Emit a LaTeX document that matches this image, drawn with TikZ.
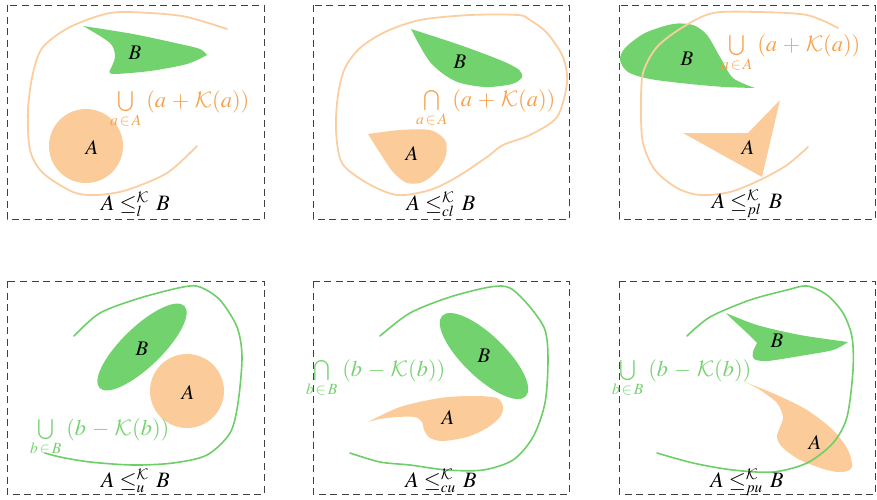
\documentclass[tikz,border=0pt]{standalone}
\usepackage{mathptmx}
\DeclareMathAlphabet{\mathcmcal}{OMS}{cmsy}{m}{n}
\newcommand{\Kc}{\mathcmcal{K}}
\definecolor{gfill}{RGB}{114,210,110}
\definecolor{ofill}{RGB}{251,204,153}
\definecolor{curveorange}{RGB}{250,206,160}
\definecolor{curvegreen}{RGB}{110,206,104}
\definecolor{textorange}{RGB}{245,163,78}
\definecolor{textgreen}{RGB}{118,210,112}
\begin{document}
\begin{tikzpicture}[x=1pt,y=-1pt,
  panel/.style={draw=black!75, dash pattern=on 7pt off 4.5pt, line width=0.9pt},
  ocurve/.style={draw=curveorange, line width=1.8pt, line cap=round},
  gcurve/.style={draw=curvegreen, line width=1.6pt, line cap=round},
  mainlab/.style={inner sep=0pt, font=\huge, anchor=base},
  olab/.style={inner sep=0pt, font=\huge, text=textorange, anchor=base west},
  glab/.style={inner sep=0pt, font=\huge, text=textgreen, anchor=base west},
  setlab/.style={inner sep=0pt, font=\huge}]
\useasboundingbox (0,0) rectangle (877,499);

% ---------- panels ----------
\draw[panel] (7,5) rectangle (264,219);
\draw[panel] (313,5) rectangle (569,219);
\draw[panel] (619,5) rectangle (875,219);
\draw[panel] (7,281) rectangle (264,494);
\draw[panel] (313,281) rectangle (569,494);
\draw[panel] (619,281) rectangle (875,494);

% ---------- panel 1 ----------
\fill[gfill] (83,26) -- plot[smooth] coordinates {(83,26) (133,34) (180,44) (200,49) (207,55)}
  -- plot[smooth] coordinates {(207,55) (187,64) (150,71) (113,74) (110,70)}
  -- plot[smooth] coordinates {(110,70) (115,57) (110,43) (83,26)} -- cycle;
\fill[ofill] (86,146) circle [radius=37];
\draw[ocurve] plot[smooth] coordinates {(227,29) (187,17) (150,13) (110,13) (70,27) (43,47) (33,73) (28,110) (30,150) (43,173) (73,192) (97,195) (127,190) (167,173) (197,146)};
\node[setlab] (B1) at (135,53) {$B$};
\node[setlab] (A1) at (92,148) {$A$};
\node[olab] (L1) at (110,107) {\scalebox{1.08}{$\bigcup\limits_{a\,\in\,A}\;(a\,+\,\Kc(a))$}};
\node[mainlab] (M1) at (135.5,210) {\scalebox{1.06}{$A \leq^{\Kc}_{l}\, B$}};

% ---------- panel 2 ----------
\fill[gfill] (411,29) -- plot[smooth] coordinates {(411,29) (460,45) (500,60) (518,69) (522,77) (512,84) (485,87) (455,81) (430,62) (411,29)} -- cycle;
\fill[ofill] (368,134) -- plot[smooth] coordinates {(368,134) (400,130) (430,130) (445,140) (446,155) (438,170) (423,182) (407,183) (393,172) (380,153) (368,134)} -- cycle;
\draw[ocurve] plot[smooth cycle] coordinates {(518,15) (470,15) (420,20) (385,32) (360,48) (345,68) (338,95) (336,130) (342,163) (367,183) (397,195) (430,190) (457,177) (487,157) (503,145) (530,135) (557,117) (567,83) (563,57) (547,33) (530,20)};
\node[setlab] (B2) at (460,62) {$B$};
\node[setlab] (A2) at (412,154) {$A$};
\node[olab] (L2) at (416,106) {\scalebox{1.08}{$\bigcap\limits_{a\,\in\,A}\;(a\,+\,\Kc(a))$}};
\node[mainlab] (M2) at (441,210) {\scalebox{1.06}{$A \leq^{\Kc}_{cl}\, B$}};

% ---------- panel 3 ----------
\fill[gfill] (755,88) -- plot[smooth] coordinates {(755,88) (733,78) (720,57) (707,35) (693,25) (673,24) (645,33) (625,48) (620,60) (628,72) (650,79) (690,84) (725,87) (755,88)} -- cycle;
\fill[ofill] (683,133) -- (748,133) -- (780,100) -- (762,177) -- cycle;
\draw[ocurve] plot[smooth] coordinates {(838,28) (807,15) (757,12) (713,13) (683,27) (657,47) (643,73) (641,110) (643,143) (655,170) (677,188) (700,195) (730,192) (760,180) (787,165) (808,147)};
\node[setlab] (B3) at (687,59) {$B$};
\node[setlab] (A3) at (748,148) {$A$};
\node[olab] (L3) at (721,51) {\scalebox{1.08}{$\bigcup\limits_{a\,\in\,A}\;(a\,+\,\Kc(a))$}};
\node[mainlab] (M3) at (747,208) {\scalebox{1.06}{$A \leq^{\Kc}_{pl}\, B$}};

% ---------- panel 4 ----------
\fill[gfill, shift={(142,347)}, rotate=44] (0,0) ellipse [x radius=59, y radius=20];
\fill[ofill] (187,391) circle [radius=37];
\draw[gcurve] plot[smooth] coordinates {(74,336) (100,313) (140,298) (183,287) (200,287) (220,300) (237,327) (242,357) (238,403) (230,433) (207,455) (173,463) (133,465) (90,462) (60,457) (45,453)};
\node[setlab] (B4) at (142,349) {$B$};
\node[setlab] (A4) at (188,393) {$A$};
\node[glab] (L4) at (30,435) {\scalebox{1.08}{$\bigcup\limits_{b\,\in\,B}\;(b\,-\,\Kc(b))$}};
\node[mainlab] (M4) at (135.5,487) {\scalebox{1.06}{$A \leq^{\Kc}_{u}\, B$}};

% ---------- panel 5 ----------
\fill[gfill, shift={(484,356)}, rotate=-44] (0,0) ellipse [x radius=58, y radius=21];
\fill[ofill] (368,422) -- plot[smooth] coordinates {(368,422) (400,407) (440,398) (473,396) (497,398) (503,407) (500,417) (487,428) (467,437) (443,441) (430,438) (424,430) (422,422) (415,417) (397,417) (380,419) (368,422)} -- cycle;
\draw[gcurve] plot[smooth] coordinates {(380,336) (410,313) (450,297) (490,287) (510,288) (530,307) (545,330) (548,360) (545,403) (533,437) (513,460) (483,470) (447,470) (410,465) (380,462) (350,453)};
\node[setlab] (B5) at (484,356) {$B$};
\node[setlab] (A5) at (448,418) {$A$};
\node[glab] (L5) at (306,376) {\scalebox{1.08}{$\bigcap\limits_{b\,\in\,B}\;(b\,-\,\Kc(b))$}};
\node[mainlab] (M5) at (441,487) {\scalebox{1.06}{$A \leq^{\Kc}_{cu}\, B$}};

% ---------- panel 6 ----------
\fill[gfill] (726,313) -- plot[smooth] coordinates {(726,313) (757,325) (800,335) (848,342)}
  -- plot[smooth] coordinates {(848,342) (833,350) (800,356) (767,361) (754,359) (753,352) (757,343)}
  -- plot[smooth] coordinates {(757,343) (747,333) (733,320) (726,313)} -- cycle;
\fill[ofill] (745,382) -- plot[smooth] coordinates {(745,382) (777,395) (807,410) (833,430) (848,450) (852,467) (843,472) (827,470) (800,460) (782,447) (777,437) (780,427) (783,417) (777,403) (760,390) (745,382)} -- cycle;
\draw[gcurve] plot[smooth] coordinates {(687,336) (710,317) (750,300) (787,290) (807,286) (827,295) (843,313) (852,337) (853,370) (847,417) (833,443) (807,463) (773,472) (733,470) (693,463) (657,453)};
\node[setlab] (B6) at (777,341) {$B$};
\node[setlab] (A6) at (815,443) {$A$};
\node[glab] (L6) at (612,376) {\scalebox{1.08}{$\bigcup\limits_{b\,\in\,B}\;(b\,-\,\Kc(b))$}};
\node[mainlab] (M6) at (747,487) {\scalebox{1.06}{$A \leq^{\Kc}_{pu}\, B$}};
\end{tikzpicture}
\end{document}
